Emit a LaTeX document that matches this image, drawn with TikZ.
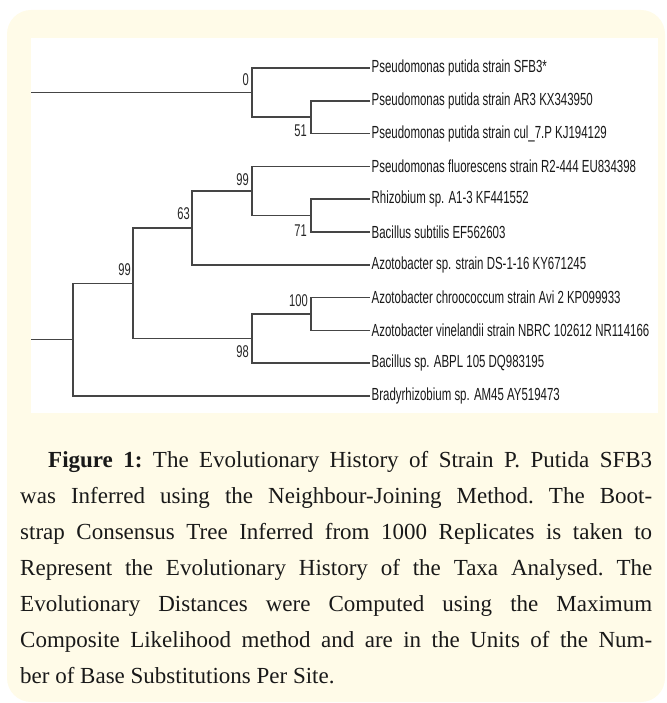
\documentclass[tikz,border=0pt]{standalone}
\usepackage{fontspec}
\setmainfont{Liberation Serif}
\newfontfamily\treefont[FakeStretch=0.655]{Liberation Sans}
\usetikzlibrary{positioning,calc}
\definecolor{cream}{HTML}{FFFBE8}
\definecolor{branchgray}{HTML}{454545}

\begin{document}
\begin{tikzpicture}[
  x=1pt, y=-1pt,
  branch/.style={draw=branchgray, line width=1.6pt},
  taxon/.style={anchor=west, inner sep=1.5pt, text=black!90,
               font=\treefont\fontsize{17.5}{17.5}\selectfont},
  boot/.style={anchor=east, inner sep=0pt, text=black!85,
              font=\treefont\fontsize{17}{17}\selectfont},
  caption/.style={anchor=base west, inner sep=0pt, text width=632pt,
                 align=justify, text=black!90,
                 font=\fontsize{23}{36}\selectfont},
]
  \useasboundingbox (0,0) rectangle (666,703);

  % Panel and figure area
  \fill[cream, rounded corners=24pt] (7,10) rectangle (665,702);
  \fill[white] (31,38) rectangle (658,413);

  % Leaf tips with taxon names
  \foreach \i/\txt in {
    1/Pseudomonas putida strain SFB3*,
    2/Pseudomonas putida strain AR3 KX343950,
    3/Pseudomonas putida strain cul\_7.P KJ194129,
    4/Pseudomonas fluorescens strain R2-444 EU834398,
    5/Rhizobium sp. A1-3 KF441552,
    6/Bacillus subtilis EF562603,
    7/Azotobacter sp. strain DS-1-16 KY671245,
    8/Azotobacter chroococcum strain Avi 2 KP099933,
    9/Azotobacter vinelandii strain NBRC 102612 NR114166,
    10/Bacillus sp. ABPL 105 DQ983195,
    11/Bradyrhizobium sp. AM45 AY519473}
  {
    \coordinate (t\i) at (370,{68+32.8*(\i-1)});
    \node[taxon] (l\i) at (t\i) {\txt};
  }

  % Internal nodes
  \coordinate (n51) at (311,117.2);
  \coordinate (n0) at (252,92.6);
  \coordinate (n71) at (311,215.6);
  \coordinate (n99a) at (252,191);
  \coordinate (n63) at (192,227.9);
  \coordinate (n100) at (311,314);
  \coordinate (n98) at (252,338.6);
  \coordinate (n99b) at (133,283.3);
  \coordinate (root) at (73,339.6);
  \coordinate (topin) at (31,92.6);
  \coordinate (rootin) at (31,339.6);

  % Branches
  \draw[branch] (topin) -- (n0);
  \draw[branch] (n0) |- (t1);
  \draw[branch] (n0) |- (n51);
  \draw[branch] (n51) |- (t2);
  \draw[branch] (n51) |- (t3);

  \draw[branch] (rootin) -- (root);
  \draw[branch] (root) |- (n99b);
  \draw[branch] (root) |- (t11);
  \draw[branch] (n99b) |- (n63);
  \draw[branch] (n99b) |- (n98);
  \draw[branch] (n63) |- (n99a);
  \draw[branch] (n63) |- (t7);
  \draw[branch] (n99a) |- (t4);
  \draw[branch] (n99a) |- (n71);
  \draw[branch] (n71) |- (t5);
  \draw[branch] (n71) |- (t6);
  \draw[branch] (n98) |- (n100);
  \draw[branch] (n98) |- (t10);
  \draw[branch] (n100) |- (t8);
  \draw[branch] (n100) |- (t9);

  % Bootstrap values
  \node[boot] (b0) at (249,80) {0};
  \node[boot] (b51) at (307,131) {51};
  \node[boot] (b99a) at (249,180) {99};
  \node[boot] (b71) at (307,231) {71};
  \node[boot] (b63) at (190,214) {63};
  \node[boot] (b99b) at (131,270) {99};
  \node[boot] (b100) at (308,301) {100};
  \node[boot] (b98) at (249,352) {98};

  % Caption
  \node[caption] (cap) at (20,467) {\frenchspacing\tolerance=9999\hspace*{28pt}%
    \textbf{Figure 1:} The Evolutionary History of Strain P. Putida SFB3\linebreak
    was Inferred using the Neighbour-Joining Method. The Boot-\linebreak
    strap Consensus Tree Inferred from 1000 Replicates is taken to\linebreak
    Represent the Evolutionary History of the Taxa Analysed. The\linebreak
    Evolutionary Distances were Computed using the Maximum\linebreak
    Composite Likelihood method and are in the Units of the Num-\linebreak
    ber of Base Substitutions Per Site.};
\end{tikzpicture}
\end{document}
